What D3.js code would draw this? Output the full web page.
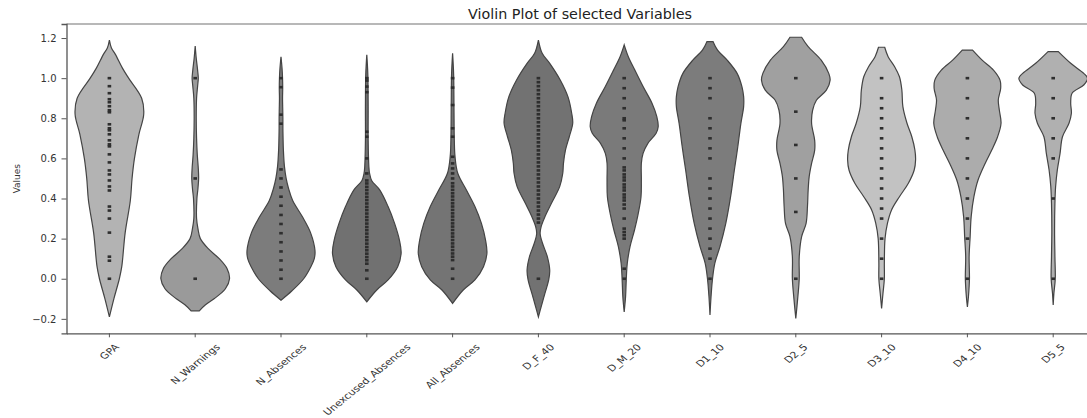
<!DOCTYPE html>
<html>
<head>
<meta charset="utf-8">
<script src="https://cdn.jsdelivr.net/npm/d3@7"></script>
<style>
  body { margin: 0; background: #fff; }
  text { font-family: "DejaVu Sans", sans-serif; }
</style>
</head>
<body>
<div id="chart"></div>
<script>
// categories and fill greys
const categories = ["GPA", "N_Warnings", "N_Absences", "Unexcused_Absences", "All_Absences",
  "D_F_40", "D_M_20", "D1_10", "D2_5", "D3_10", "D4_10", "D5_5"];
const fills = ["#b3b3b3", "#9a9a9a", "#7c7c7c", "#717171", "#747474", "#727272",
  "#7a7a7a", "#7c7c7c", "#a0a0a0", "#c2c2c2", "#acacac", "#b0b0b0"];
const yTicks = [-0.2, 0, 0.2, 0.4, 0.6, 0.8, 1.0, 1.2];

// observed values (inner points), one list per variable
const pointValues = [
  [1.0, 0.96, 0.925, 0.895, 0.88, 0.86, 0.84, 0.83, 0.77, 0.75, 0.74, 0.72, 0.69, 0.67, 0.66, 0.62, 0.58, 0.54, 0.52, 0.49, 0.46, 0.44, 0.36, 0.34, 0.30, 0.23, 0.11, 0.09, 0.0],
  [1.0, 0.5, 0.0],
  [1.0, 0.955, 0.818, 0.773, 0.545, 0.5, 0.455, 0.409, 0.364, 0.318, 0.273, 0.227, 0.182, 0.136, 0.091, 0.045, 0.0],
  [1.0, 0.988, 0.958, 0.93, 0.733, 0.708, 0.6, 0.525, 0.49, 0.475, 0.458, 0.442, 0.425, 0.408, 0.392, 0.375, 0.358, 0.342, 0.325, 0.308, 0.292, 0.275, 0.258, 0.242, 0.225, 0.208, 0.192, 0.175, 0.158, 0.142, 0.125, 0.108, 0.092, 0.075, 0.042, 0.0],
  [1.0, 0.953, 0.866, 0.75, 0.708, 0.608, 0.575, 0.55, 0.525, 0.5, 0.476, 0.46, 0.443, 0.426, 0.41, 0.393, 0.376, 0.36, 0.343, 0.326, 0.31, 0.293, 0.276, 0.26, 0.243, 0.226, 0.21, 0.193, 0.176, 0.16, 0.143, 0.126, 0.11, 0.093, 0.05, 0.0],
  [1.0, 0.98, 0.96, 0.94, 0.92, 0.9, 0.88, 0.86, 0.84, 0.82, 0.8, 0.78, 0.76, 0.74, 0.72, 0.7, 0.68, 0.66, 0.64, 0.62, 0.6, 0.58, 0.56, 0.54, 0.52, 0.5, 0.48, 0.46, 0.44, 0.42, 0.4, 0.38, 0.36, 0.34, 0.32, 0.3, 0.28, 0.0],
  [1.0, 0.95, 0.9, 0.85, 0.8, 0.79, 0.75, 0.7, 0.65, 0.6, 0.555, 0.54, 0.52, 0.505, 0.49, 0.47, 0.455, 0.44, 0.42, 0.405, 0.39, 0.37, 0.35, 0.3, 0.25, 0.233, 0.217, 0.2, 0.05, 0.0],
  [1.0, 0.95, 0.9, 0.8, 0.75, 0.7, 0.65, 0.6, 0.5, 0.45, 0.4, 0.35, 0.3, 0.25, 0.2, 0.15, 0.1, 0.0],
  [1.0, 0.833, 0.667, 0.5, 0.333, 0.0],
  [1.0, 0.9, 0.85, 0.8, 0.75, 0.7, 0.65, 0.6, 0.55, 0.5, 0.45, 0.4, 0.35, 0.3, 0.2, 0.1, 0.0],
  [1.0, 0.9, 0.8, 0.7, 0.6, 0.5, 0.4, 0.3, 0.2, 0.0],
  [1.0, 0.9, 0.8, 0.7, 0.6, 0.4, 0.0]
];

// density outline: [value, relative half width]
const densityShapes = [
  [[1.19,0],[1.15,0.06],[1.12,0.17],[1.05,0.38],[1.0,0.56],[0.9,0.94],[0.82,1.0],[0.72,0.86],[0.6,0.73],[0.5,0.66],[0.39,0.61],[0.23,0.46],[0.06,0.36],[0,0.29],[-0.1,0.13],[-0.19,0]],
  [[1.16,0],[1.1,0.03],[1.04,0.07],[1.0,0.09],[0.96,0.07],[0.9,0.04],[0.8,0.03],[0.7,0.04],[0.62,0.06],[0.55,0.09],[0.5,0.1],[0.45,0.08],[0.4,0.05],[0.3,0.04],[0.25,0.08],[0.2,0.15],[0.15,0.38],[0.1,0.7],[0.05,0.93],[0,1.0],[-0.05,0.88],[-0.1,0.55],[-0.13,0.3],[-0.16,0.12]],
  [[1.107,0],[1.05,0.03],[1.0,0.045],[0.95,0.05],[0.9,0.045],[0.85,0.05],[0.8,0.055],[0.75,0.055],[0.7,0.06],[0.64,0.07],[0.56,0.1],[0.5,0.15],[0.45,0.22],[0.39,0.34],[0.31,0.62],[0.23,0.86],[0.14,0.99],[0.1,0.97],[0.06,0.87],[0,0.66],[-0.06,0.32],[-0.107,0]],
  [[1.116,0],[1.02,0.03],[0.86,0.04],[0.69,0.04],[0.56,0.06],[0.526,0.08],[0.49,0.14],[0.442,0.38],[0.36,0.62],[0.276,0.81],[0.193,0.95],[0.127,1.0],[0.06,0.9],[-0.006,0.62],[-0.056,0.29],[-0.115,0]],
  [[1.124,0],[1.02,0.03],[0.86,0.04],[0.69,0.05],[0.61,0.07],[0.526,0.15],[0.44,0.41],[0.36,0.65],[0.276,0.84],[0.193,0.96],[0.127,1.0],[0.06,0.9],[-0.006,0.65],[-0.056,0.31],[-0.123,0]],
  [[1.19,0],[1.124,0.11],[1.074,0.33],[0.99,0.64],[0.908,0.86],[0.825,0.97],[0.775,1.0],[0.708,0.9],[0.642,0.79],[0.575,0.73],[0.526,0.71],[0.459,0.62],[0.376,0.38],[0.309,0.19],[0.26,0.08],[0.226,0.05],[0.177,0.12],[0.11,0.26],[0.043,0.33],[-0.006,0.3],[-0.073,0.19],[-0.14,0.08],[-0.19,0]],
  [[1.166,0],[1.107,0.12],[1.04,0.31],[0.958,0.55],[0.875,0.81],[0.808,0.95],[0.758,0.99],[0.725,0.93],[0.675,0.69],[0.625,0.55],[0.576,0.5],[0.492,0.5],[0.409,0.49],[0.326,0.41],[0.243,0.3],[0.16,0.17],[0.077,0.09],[-0.006,0.06],[-0.09,0.04],[-0.165,0]],
  [[1.182,0.09],[1.14,0.22],[1.09,0.5],[1.024,0.79],[0.958,0.93],[0.908,0.98],[0.858,0.98],[0.775,0.9],[0.658,0.81],[0.542,0.71],[0.409,0.6],[0.276,0.46],[0.16,0.29],[0.077,0.14],[-0.006,0.07],[-0.09,0.03],[-0.181,0]],
  [[1.204,0.17],[1.157,0.36],[1.09,0.74],[1.024,0.96],[0.99,1.0],[0.94,0.89],[0.89,0.6],[0.84,0.49],[0.775,0.46],[0.69,0.55],[0.64,0.55],[0.575,0.46],[0.509,0.39],[0.442,0.36],[0.36,0.34],[0.276,0.3],[0.21,0.17],[0.11,0.1],[0,0.1],[-0.09,0.06],[-0.198,0]],
  [[1.154,0.09],[1.107,0.19],[1.057,0.38],[1.007,0.52],[0.941,0.59],[0.858,0.62],[0.775,0.74],[0.708,0.88],[0.642,0.97],[0.592,0.99],[0.542,0.95],[0.476,0.78],[0.409,0.52],[0.343,0.29],[0.276,0.17],[0.2,0.1],[0.077,0.08],[0,0.08],[-0.073,0.04],[-0.148,0]],
  [[1.14,0.15],[1.09,0.43],[1.04,0.76],[0.99,0.95],[0.95,0.97],[0.891,0.9],[0.841,0.93],[0.775,0.98],[0.708,0.88],[0.642,0.71],[0.576,0.52],[0.492,0.31],[0.409,0.19],[0.309,0.11],[0.21,0.08],[0.11,0.05],[0,0.06],[-0.09,0.03],[-0.14,0]],
  [[1.132,0.15],[1.074,0.51],[1.024,0.89],[1.0,1.0],[0.966,0.89],[0.925,0.55],[0.875,0.51],[0.825,0.53],[0.775,0.46],[0.708,0.27],[0.625,0.2],[0.542,0.12],[0.459,0.07],[0.376,0.05],[0.243,0.04],[0.11,0.05],[0,0.06],[-0.073,0.02],[-0.131,0]]
];

const width = 1087, height = 418;
const margin = { left: 66.5, top: 24, bottom: 333.3 };

const svg = d3.select("#chart").append("svg")
  .attr("width", width)
  .attr("height", height);

// axes span 12 bands, right side falls outside the picture
const x = d3.scaleBand().domain(categories).range([margin.left, margin.left + 12 * 85.8]);
const y = d3.scaleLinear().domain([-0.272, 1.27]).range([margin.bottom, margin.top]);
const halfW = x.bandwidth() * 0.4;

// violins
const g = svg.append("g");
categories.forEach((cat, i) => {
  const cx = x(cat) + x.bandwidth() / 2;
  const area = d3.area()
    .y(d => y(d[0]))
    .x0(d => cx - d[1] * halfW)
    .x1(d => cx + d[1] * halfW)
    .curve(d3.curveCatmullRom);

  g.append("path")
    .datum(densityShapes[i])
    .attr("d", area)
    .attr("fill", fills[i])
    .attr("stroke", "#444")
    .attr("stroke-width", 1.2);

  g.append("g").selectAll("rect").data(pointValues[i]).join("rect")
    .attr("x", cx - 1.8)
    .attr("y", d => y(d) - 1.3)
    .attr("width", 3.6)
    .attr("height", 2.6)
    .attr("fill", "#2e2e2e");
});

// top frame line
svg.append("line")
  .attr("x1", margin.left).attr("x2", width)
  .attr("y1", margin.top).attr("y2", margin.top)
  .attr("stroke", "#a0a0a0").attr("stroke-width", 1.6);

// y axis
const yAxis = svg.append("g")
  .attr("transform", `translate(${margin.left},0)`)
  .call(d3.axisLeft(y).tickValues(yTicks).tickSize(5).tickPadding(5)
    .tickFormat(d => d3.format(".1f")(d).replace("-", "\u2212")));
yAxis.select(".domain").attr("stroke", "#555").attr("stroke-width", 1.3);
yAxis.selectAll(".tick line").attr("stroke", "#555");
yAxis.selectAll("text").attr("font-size", 10).attr("fill", "#333")
  .style("font-family", "DejaVu Sans");

// x axis, labels rotated 45 deg and centred under each tick
const xAxis = svg.append("g")
  .attr("transform", `translate(0,${margin.bottom})`)
  .call(d3.axisBottom(x).tickSize(4).tickSizeOuter(0));
xAxis.select(".domain").attr("stroke", "#555").attr("stroke-width", 1.3);
xAxis.selectAll(".tick line").attr("stroke", "#555");
xAxis.selectAll(".tick text")
  .attr("font-size", 9).attr("fill", "#333")
  .style("font-family", "DejaVu Sans")
  .attr("text-anchor", "middle")
  .attr("dy", null)
  .attr("dominant-baseline", "central")
  .each(function () {
    const len = this.getComputedTextLength();
    const boxH = (len + 10.5) * Math.SQRT1_2;
    d3.select(this).attr("y", 0)
      .attr("transform", `translate(0,${8.4 + boxH / 2}) scale(1.22,1) rotate(-45)`);
  });

// labels
svg.append("text")
  .attr("x", 580).attr("y", 19)
  .attr("text-anchor", "middle")
  .attr("font-size", 13.5).attr("fill", "#222")
  .attr("textLength", 224).attr("lengthAdjust", "spacingAndGlyphs")
  .text("Violin Plot of selected Variables");

svg.append("text")
  .attr("transform", `translate(20,${(margin.top + margin.bottom) / 2}) rotate(-90)`)
  .attr("text-anchor", "middle")
  .attr("font-size", 9).attr("fill", "#333")
  .text("Values");
</script>
</body>
</html>
